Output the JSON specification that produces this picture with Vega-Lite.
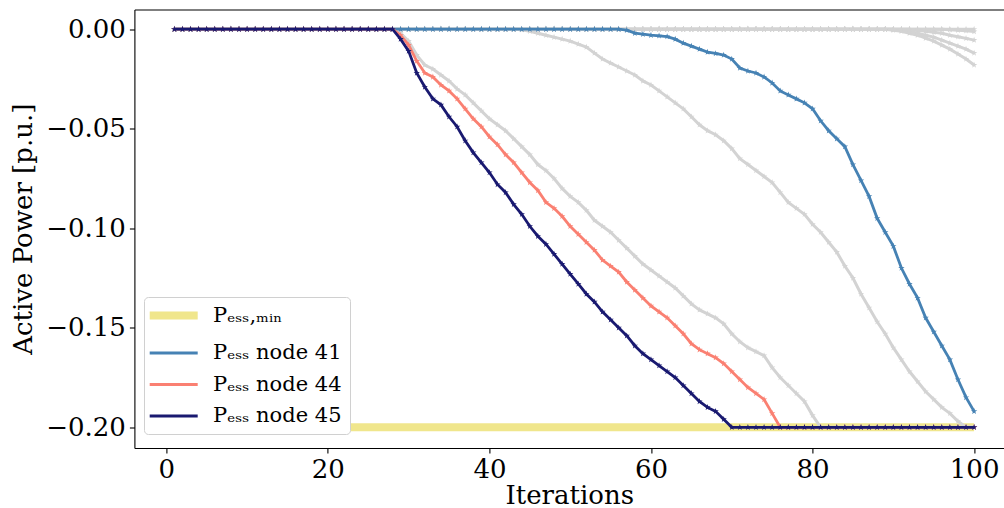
{
"$schema": "https://vega.github.io/schema/vega-lite/v6.json",
"width": 869.6, "height": 438.5,
"autosize": "none",
"padding": {"left": 134.4, "top": 9.5, "right": 0, "bottom": 60},
"background": "white",
"config": {
  "view": {"stroke": null},
  "font": "DejaVu Serif",
  "axis": {"domainColor": "#000", "domainWidth": 1.1, "tickColor": "#000", "tickWidth": 1.1, "tickSize": 5,
    "labelFont": "DejaVu Serif", "labelFontSize": 26, "labelColor": "#000",
    "titleFont": "DejaVu Serif", "titleFontSize": 26, "titleFontWeight": "normal", "titleColor": "#000", "grid": false}
},
"data": {"values": [
{"it":1,"pmin":-0.2,"n41":0,"n44":0,"n45":0,"gA":0,"gB":0,"g0":0,"g1":0,"g2":0,"g3":0,"g4":0},
{"it":2,"pmin":-0.2,"n41":0,"n44":0,"n45":0,"gA":0,"gB":0,"g0":0,"g1":0,"g2":0,"g3":0,"g4":0},
{"it":3,"pmin":-0.2,"n41":0,"n44":0,"n45":0,"gA":0,"gB":0,"g0":0,"g1":0,"g2":0,"g3":0,"g4":0},
{"it":4,"pmin":-0.2,"n41":0,"n44":0,"n45":0,"gA":0,"gB":0,"g0":0,"g1":0,"g2":0,"g3":0,"g4":0},
{"it":5,"pmin":-0.2,"n41":0,"n44":0,"n45":0,"gA":0,"gB":0,"g0":0,"g1":0,"g2":0,"g3":0,"g4":0},
{"it":6,"pmin":-0.2,"n41":0,"n44":0,"n45":0,"gA":0,"gB":0,"g0":0,"g1":0,"g2":0,"g3":0,"g4":0},
{"it":7,"pmin":-0.2,"n41":0,"n44":0,"n45":0,"gA":0,"gB":0,"g0":0,"g1":0,"g2":0,"g3":0,"g4":0},
{"it":8,"pmin":-0.2,"n41":0,"n44":0,"n45":0,"gA":0,"gB":0,"g0":0,"g1":0,"g2":0,"g3":0,"g4":0},
{"it":9,"pmin":-0.2,"n41":0,"n44":0,"n45":0,"gA":0,"gB":0,"g0":0,"g1":0,"g2":0,"g3":0,"g4":0},
{"it":10,"pmin":-0.2,"n41":0,"n44":0,"n45":0,"gA":0,"gB":0,"g0":0,"g1":0,"g2":0,"g3":0,"g4":0},
{"it":11,"pmin":-0.2,"n41":0,"n44":0,"n45":0,"gA":0,"gB":0,"g0":0,"g1":0,"g2":0,"g3":0,"g4":0},
{"it":12,"pmin":-0.2,"n41":0,"n44":0,"n45":0,"gA":0,"gB":0,"g0":0,"g1":0,"g2":0,"g3":0,"g4":0},
{"it":13,"pmin":-0.2,"n41":0,"n44":0,"n45":0,"gA":0,"gB":0,"g0":0,"g1":0,"g2":0,"g3":0,"g4":0},
{"it":14,"pmin":-0.2,"n41":0,"n44":0,"n45":0,"gA":0,"gB":0,"g0":0,"g1":0,"g2":0,"g3":0,"g4":0},
{"it":15,"pmin":-0.2,"n41":0,"n44":0,"n45":0,"gA":0,"gB":0,"g0":0,"g1":0,"g2":0,"g3":0,"g4":0},
{"it":16,"pmin":-0.2,"n41":0,"n44":0,"n45":0,"gA":0,"gB":0,"g0":0,"g1":0,"g2":0,"g3":0,"g4":0},
{"it":17,"pmin":-0.2,"n41":0,"n44":0,"n45":0,"gA":0,"gB":0,"g0":0,"g1":0,"g2":0,"g3":0,"g4":0},
{"it":18,"pmin":-0.2,"n41":0,"n44":0,"n45":0,"gA":0,"gB":0,"g0":0,"g1":0,"g2":0,"g3":0,"g4":0},
{"it":19,"pmin":-0.2,"n41":0,"n44":0,"n45":0,"gA":0,"gB":0,"g0":0,"g1":0,"g2":0,"g3":0,"g4":0},
{"it":20,"pmin":-0.2,"n41":0,"n44":0,"n45":0,"gA":0,"gB":0,"g0":0,"g1":0,"g2":0,"g3":0,"g4":0},
{"it":21,"pmin":-0.2,"n41":0,"n44":0,"n45":0,"gA":0,"gB":0,"g0":0,"g1":0,"g2":0,"g3":0,"g4":0},
{"it":22,"pmin":-0.2,"n41":0,"n44":0,"n45":0,"gA":0,"gB":0,"g0":0,"g1":0,"g2":0,"g3":0,"g4":0},
{"it":23,"pmin":-0.2,"n41":0,"n44":0,"n45":0,"gA":0,"gB":0,"g0":0,"g1":0,"g2":0,"g3":0,"g4":0},
{"it":24,"pmin":-0.2,"n41":0,"n44":0,"n45":0,"gA":0,"gB":0,"g0":0,"g1":0,"g2":0,"g3":0,"g4":0},
{"it":25,"pmin":-0.2,"n41":0,"n44":0,"n45":0,"gA":0,"gB":0,"g0":0,"g1":0,"g2":0,"g3":0,"g4":0},
{"it":26,"pmin":-0.2,"n41":0,"n44":0,"n45":0,"gA":0,"gB":0,"g0":0,"g1":0,"g2":0,"g3":0,"g4":0},
{"it":27,"pmin":-0.2,"n41":0,"n44":0,"n45":0,"gA":0,"gB":0,"g0":0,"g1":0,"g2":0,"g3":0,"g4":0},
{"it":28,"pmin":-0.2,"n41":0,"n44":0,"n45":0,"gA":0,"gB":0,"g0":0,"g1":0,"g2":0,"g3":0,"g4":0},
{"it":29,"pmin":-0.2,"n41":0,"n44":-0.003,"n45":-0.005,"gA":-0.002,"gB":0,"g0":0,"g1":0,"g2":0,"g3":0,"g4":0},
{"it":30,"pmin":-0.2,"n41":0,"n44":-0.008,"n45":-0.011,"gA":-0.006,"gB":0,"g0":0,"g1":0,"g2":0,"g3":0,"g4":0},
{"it":31,"pmin":-0.2,"n41":0,"n44":-0.016,"n45":-0.022,"gA":-0.013,"gB":0,"g0":0,"g1":0,"g2":0,"g3":0,"g4":0},
{"it":32,"pmin":-0.2,"n41":0,"n44":-0.022,"n45":-0.029,"gA":-0.018,"gB":0,"g0":0,"g1":0,"g2":0,"g3":0,"g4":0},
{"it":33,"pmin":-0.2,"n41":0,"n44":-0.024,"n45":-0.035,"gA":-0.020,"gB":0,"g0":0,"g1":0,"g2":0,"g3":0,"g4":0},
{"it":34,"pmin":-0.2,"n41":0,"n44":-0.028,"n45":-0.038,"gA":-0.023,"gB":0,"g0":0,"g1":0,"g2":0,"g3":0,"g4":0},
{"it":35,"pmin":-0.2,"n41":0,"n44":-0.031,"n45":-0.044,"gA":-0.026,"gB":0,"g0":0,"g1":0,"g2":0,"g3":0,"g4":0},
{"it":36,"pmin":-0.2,"n41":0,"n44":-0.035,"n45":-0.049,"gA":-0.030,"gB":0,"g0":0,"g1":0,"g2":0,"g3":0,"g4":0},
{"it":37,"pmin":-0.2,"n41":0,"n44":-0.040,"n45":-0.056,"gA":-0.033,"gB":0,"g0":0,"g1":0,"g2":0,"g3":0,"g4":0},
{"it":38,"pmin":-0.2,"n41":0,"n44":-0.045,"n45":-0.062,"gA":-0.037,"gB":0,"g0":0,"g1":0,"g2":0,"g3":0,"g4":0},
{"it":39,"pmin":-0.2,"n41":0,"n44":-0.049,"n45":-0.067,"gA":-0.041,"gB":0,"g0":0,"g1":0,"g2":0,"g3":0,"g4":0},
{"it":40,"pmin":-0.2,"n41":0,"n44":-0.054,"n45":-0.072,"gA":-0.045,"gB":0,"g0":0,"g1":0,"g2":0,"g3":0,"g4":0},
{"it":41,"pmin":-0.2,"n41":0,"n44":-0.058,"n45":-0.078,"gA":-0.048,"gB":0,"g0":0,"g1":0,"g2":0,"g3":0,"g4":0},
{"it":42,"pmin":-0.2,"n41":0,"n44":-0.063,"n45":-0.082,"gA":-0.051,"gB":0,"g0":0,"g1":0,"g2":0,"g3":0,"g4":0},
{"it":43,"pmin":-0.2,"n41":0,"n44":-0.067,"n45":-0.088,"gA":-0.055,"gB":0,"g0":0,"g1":0,"g2":0,"g3":0,"g4":0},
{"it":44,"pmin":-0.2,"n41":0,"n44":-0.072,"n45":-0.093,"gA":-0.059,"gB":-0.0003,"g0":0,"g1":0,"g2":0,"g3":0,"g4":0},
{"it":45,"pmin":-0.2,"n41":0,"n44":-0.077,"n45":-0.099,"gA":-0.063,"gB":-0.001,"g0":0,"g1":0,"g2":0,"g3":0,"g4":0},
{"it":46,"pmin":-0.2,"n41":0,"n44":-0.081,"n45":-0.104,"gA":-0.068,"gB":-0.002,"g0":0,"g1":0,"g2":0,"g3":0,"g4":0},
{"it":47,"pmin":-0.2,"n41":0,"n44":-0.087,"n45":-0.108,"gA":-0.071,"gB":-0.003,"g0":0,"g1":0,"g2":0,"g3":0,"g4":0},
{"it":48,"pmin":-0.2,"n41":0,"n44":-0.090,"n45":-0.113,"gA":-0.075,"gB":-0.004,"g0":0,"g1":0,"g2":0,"g3":0,"g4":0},
{"it":49,"pmin":-0.2,"n41":0,"n44":-0.094,"n45":-0.118,"gA":-0.080,"gB":-0.005,"g0":0,"g1":0,"g2":0,"g3":0,"g4":0},
{"it":50,"pmin":-0.2,"n41":0,"n44":-0.099,"n45":-0.123,"gA":-0.084,"gB":-0.006,"g0":0,"g1":0,"g2":0,"g3":0,"g4":0},
{"it":51,"pmin":-0.2,"n41":0,"n44":-0.103,"n45":-0.128,"gA":-0.087,"gB":-0.0075,"g0":0,"g1":0,"g2":0,"g3":0,"g4":0},
{"it":52,"pmin":-0.2,"n41":0,"n44":-0.107,"n45":-0.133,"gA":-0.091,"gB":-0.009,"g0":0,"g1":0,"g2":0,"g3":0,"g4":0},
{"it":53,"pmin":-0.2,"n41":0,"n44":-0.111,"n45":-0.137,"gA":-0.096,"gB":-0.012,"g0":0,"g1":0,"g2":0,"g3":0,"g4":0},
{"it":54,"pmin":-0.2,"n41":0,"n44":-0.116,"n45":-0.142,"gA":-0.099,"gB":-0.015,"g0":0,"g1":0,"g2":0,"g3":0,"g4":0},
{"it":55,"pmin":-0.2,"n41":0,"n44":-0.119,"n45":-0.146,"gA":-0.102,"gB":-0.017,"g0":0,"g1":0,"g2":0,"g3":0,"g4":0},
{"it":56,"pmin":-0.2,"n41":0,"n44":-0.122,"n45":-0.150,"gA":-0.106,"gB":-0.019,"g0":0,"g1":0,"g2":0,"g3":0,"g4":0},
{"it":57,"pmin":-0.2,"n41":-0.0005,"n44":-0.127,"n45":-0.154,"gA":-0.110,"gB":-0.021,"g0":0,"g1":0,"g2":0,"g3":0,"g4":0},
{"it":58,"pmin":-0.2,"n41":-0.002,"n44":-0.131,"n45":-0.159,"gA":-0.114,"gB":-0.023,"g0":0,"g1":0,"g2":0,"g3":0,"g4":0},
{"it":59,"pmin":-0.2,"n41":-0.0025,"n44":-0.135,"n45":-0.163,"gA":-0.118,"gB":-0.026,"g0":0,"g1":0,"g2":0,"g3":0,"g4":0},
{"it":60,"pmin":-0.2,"n41":-0.003,"n44":-0.139,"n45":-0.166,"gA":-0.121,"gB":-0.028,"g0":0,"g1":0,"g2":0,"g3":0,"g4":0},
{"it":61,"pmin":-0.2,"n41":-0.0033,"n44":-0.142,"n45":-0.169,"gA":-0.124,"gB":-0.031,"g0":0,"g1":0,"g2":0,"g3":0,"g4":0},
{"it":62,"pmin":-0.2,"n41":-0.0037,"n44":-0.145,"n45":-0.172,"gA":-0.127,"gB":-0.034,"g0":0,"g1":0,"g2":0,"g3":0,"g4":0},
{"it":63,"pmin":-0.2,"n41":-0.005,"n44":-0.149,"n45":-0.175,"gA":-0.130,"gB":-0.037,"g0":0,"g1":0,"g2":0,"g3":0,"g4":0},
{"it":64,"pmin":-0.2,"n41":-0.007,"n44":-0.153,"n45":-0.179,"gA":-0.134,"gB":-0.040,"g0":0,"g1":0,"g2":0,"g3":0,"g4":0},
{"it":65,"pmin":-0.2,"n41":-0.0085,"n44":-0.158,"n45":-0.183,"gA":-0.138,"gB":-0.044,"g0":0,"g1":0,"g2":0,"g3":0,"g4":0},
{"it":66,"pmin":-0.2,"n41":-0.010,"n44":-0.161,"n45":-0.187,"gA":-0.141,"gB":-0.048,"g0":0,"g1":0,"g2":0,"g3":0,"g4":0},
{"it":67,"pmin":-0.2,"n41":-0.0115,"n44":-0.163,"n45":-0.190,"gA":-0.143,"gB":-0.051,"g0":0,"g1":0,"g2":0,"g3":0,"g4":0},
{"it":68,"pmin":-0.2,"n41":-0.0122,"n44":-0.165,"n45":-0.192,"gA":-0.145,"gB":-0.053,"g0":0,"g1":0,"g2":0,"g3":0,"g4":0},
{"it":69,"pmin":-0.2,"n41":-0.013,"n44":-0.168,"n45":-0.196,"gA":-0.148,"gB":-0.056,"g0":0,"g1":0,"g2":0,"g3":0,"g4":0},
{"it":70,"pmin":-0.2,"n41":-0.015,"n44":-0.172,"n45":-0.2,"gA":-0.153,"gB":-0.060,"g0":0,"g1":0,"g2":0,"g3":0,"g4":0},
{"it":71,"pmin":-0.2,"n41":-0.0195,"n44":-0.176,"n45":-0.2,"gA":-0.157,"gB":-0.065,"g0":0,"g1":0,"g2":0,"g3":0,"g4":0},
{"it":72,"pmin":-0.2,"n41":-0.021,"n44":-0.180,"n45":-0.2,"gA":-0.160,"gB":-0.068,"g0":0,"g1":0,"g2":0,"g3":0,"g4":0},
{"it":73,"pmin":-0.2,"n41":-0.022,"n44":-0.183,"n45":-0.2,"gA":-0.162,"gB":-0.071,"g0":0,"g1":0,"g2":0,"g3":0,"g4":0},
{"it":74,"pmin":-0.2,"n41":-0.024,"n44":-0.186,"n45":-0.2,"gA":-0.164,"gB":-0.074,"g0":0,"g1":0,"g2":0,"g3":0,"g4":0},
{"it":75,"pmin":-0.2,"n41":-0.027,"n44":-0.193,"n45":-0.2,"gA":-0.170,"gB":-0.077,"g0":0,"g1":0,"g2":0,"g3":0,"g4":0},
{"it":76,"pmin":-0.2,"n41":-0.031,"n44":-0.2,"n45":-0.2,"gA":-0.175,"gB":-0.082,"g0":0,"g1":0,"g2":0,"g3":0,"g4":0},
{"it":77,"pmin":-0.2,"n41":-0.033,"n44":-0.2,"n45":-0.2,"gA":-0.179,"gB":-0.087,"g0":0,"g1":0,"g2":0,"g3":0,"g4":0},
{"it":78,"pmin":-0.2,"n41":-0.035,"n44":-0.2,"n45":-0.2,"gA":-0.183,"gB":-0.090,"g0":0,"g1":0,"g2":0,"g3":0,"g4":0},
{"it":79,"pmin":-0.2,"n41":-0.037,"n44":-0.2,"n45":-0.2,"gA":-0.187,"gB":-0.093,"g0":0,"g1":0,"g2":0,"g3":0,"g4":0},
{"it":80,"pmin":-0.2,"n41":-0.040,"n44":-0.2,"n45":-0.2,"gA":-0.194,"gB":-0.098,"g0":0,"g1":0,"g2":0,"g3":0,"g4":0},
{"it":81,"pmin":-0.2,"n41":-0.046,"n44":-0.2,"n45":-0.2,"gA":-0.2,"gB":-0.102,"g0":0,"g1":0,"g2":0,"g3":0,"g4":0},
{"it":82,"pmin":-0.2,"n41":-0.051,"n44":-0.2,"n45":-0.2,"gA":-0.2,"gB":-0.107,"g0":0,"g1":0,"g2":0,"g3":0,"g4":0},
{"it":83,"pmin":-0.2,"n41":-0.055,"n44":-0.2,"n45":-0.2,"gA":-0.2,"gB":-0.112,"g0":0,"g1":0,"g2":0,"g3":0,"g4":0},
{"it":84,"pmin":-0.2,"n41":-0.059,"n44":-0.2,"n45":-0.2,"gA":-0.2,"gB":-0.119,"g0":0,"g1":0,"g2":0,"g3":0,"g4":0},
{"it":85,"pmin":-0.2,"n41":-0.068,"n44":-0.2,"n45":-0.2,"gA":-0.2,"gB":-0.125,"g0":0,"g1":0,"g2":0,"g3":0,"g4":0},
{"it":86,"pmin":-0.2,"n41":-0.076,"n44":-0.2,"n45":-0.2,"gA":-0.2,"gB":-0.133,"g0":0,"g1":0,"g2":0,"g3":0,"g4":0},
{"it":87,"pmin":-0.2,"n41":-0.084,"n44":-0.2,"n45":-0.2,"gA":-0.2,"gB":-0.140,"g0":0,"g1":0,"g2":0,"g3":0,"g4":0},
{"it":88,"pmin":-0.2,"n41":-0.095,"n44":-0.2,"n45":-0.2,"gA":-0.2,"gB":-0.147,"g0":0,"g1":0,"g2":0,"g3":0,"g4":0},
{"it":89,"pmin":-0.2,"n41":-0.102,"n44":-0.2,"n45":-0.2,"gA":-0.2,"gB":-0.153,"g0":0,"g1":0,"g2":0,"g3":0,"g4":0},
{"it":90,"pmin":-0.2,"n41":-0.109,"n44":-0.2,"n45":-0.2,"gA":-0.2,"gB":-0.160,"g0":0,"g1":0,"g2":0,"g3":0,"g4":-0.0005},
{"it":91,"pmin":-0.2,"n41":-0.120,"n44":-0.2,"n45":-0.2,"gA":-0.2,"gB":-0.166,"g0":0,"g1":0,"g2":0,"g3":-0.0005,"g4":-0.001},
{"it":92,"pmin":-0.2,"n41":-0.128,"n44":-0.2,"n45":-0.2,"gA":-0.2,"gB":-0.172,"g0":0,"g1":0,"g2":0,"g3":-0.001,"g4":-0.002},
{"it":93,"pmin":-0.2,"n41":-0.135,"n44":-0.2,"n45":-0.2,"gA":-0.2,"gB":-0.177,"g0":0,"g1":0,"g2":-0.0005,"g3":-0.002,"g4":-0.003},
{"it":94,"pmin":-0.2,"n41":-0.145,"n44":-0.2,"n45":-0.2,"gA":-0.2,"gB":-0.182,"g0":0,"g1":0,"g2":-0.001,"g3":-0.003,"g4":-0.0045},
{"it":95,"pmin":-0.2,"n41":-0.152,"n44":-0.2,"n45":-0.2,"gA":-0.2,"gB":-0.186,"g0":0,"g1":0,"g2":-0.0015,"g3":-0.004,"g4":-0.006},
{"it":96,"pmin":-0.2,"n41":-0.159,"n44":-0.2,"n45":-0.2,"gA":-0.2,"gB":-0.190,"g0":0,"g1":0,"g2":-0.002,"g3":-0.0055,"g4":-0.008},
{"it":97,"pmin":-0.2,"n41":-0.166,"n44":-0.2,"n45":-0.2,"gA":-0.2,"gB":-0.193,"g0":0,"g1":-0.0003,"g2":-0.003,"g3":-0.007,"g4":-0.010},
{"it":98,"pmin":-0.2,"n41":-0.176,"n44":-0.2,"n45":-0.2,"gA":-0.2,"gB":-0.197,"g0":0,"g1":-0.0005,"g2":-0.0038,"g3":-0.0085,"g4":-0.0125},
{"it":99,"pmin":-0.2,"n41":-0.185,"n44":-0.2,"n45":-0.2,"gA":-0.2,"gB":-0.2,"g0":0,"g1":-0.0008,"g2":-0.0046,"g3":-0.010,"g4":-0.015},
{"it":100,"pmin":-0.2,"n41":-0.192,"n44":-0.2,"n45":-0.2,"gA":-0.2,"gB":-0.2,"g0":0,"g1":-0.0012,"g2":-0.0055,"g3":-0.012,"g4":-0.018}
]},
"transform": [{"fold": ["pmin","gA","gB","g0","g1","g2","g3","g4","n41","n44","n45"], "as": ["series","value"]}],
"resolve": {"axis": {"x": "independent"}},
"layer": [
  {"transform": [{"filter": "datum.series === 'pmin'"}],
   "mark": {"type": "line", "strokeCap": "butt", "strokeWidth": 8},
   "encoding": {
     "x": {"field": "it", "type": "quantitative", "scale": {"domain": [-3.95, 103.7], "nice": false, "zero": false},
       "axis": {"orient": "top", "labels": false, "ticks": false, "title": null}},
     "y": {"field": "value", "type": "quantitative", "scale": {"domain": [-0.2104, 0.0099], "nice": false, "zero": false},
       "axis": {"values": [-0.2,-0.15,-0.1,-0.05,0], "format": ".2f", "title": "Active Power [p.u.]", "labelPadding": 4, "titlePadding": 9}},
     "color": {"field": "series", "type": "nominal",
       "scale": {"domain": ["pmin","n41","n44","n45"], "range": ["#f0e68c","#4682b4","#fa8072","#191970"]},
       "legend": {"orient": "none", "legendX": 9.6, "legendY": 287.5, "title": null, "symbolType": "M-1.6,0L4.4,0", "symbolSize": 256,
         "symbolStrokeWidth": 2.8,
         "labelFont": "DejaVu Serif", "labelFontSize": 21, "labelColor": "#000", "fillColor": "#ffffff", "strokeColor": "#d0d0d0",
         "cornerRadius": 4, "padding": 8, "rowPadding": 9.5, "labelOffset": 40,
         "labelExpr": "datum.value === 'pmin' ? 'Pₑₛₛ,ₘᵢₙ' : 'Pₑₛₛ node ' + slice(datum.value, 1)",
         "encode": {"symbols": {"update": {"strokeWidth": {"signal": "datum.value === 'pmin' ? 8 : 2.8"}}}}}}
   }},
  {"encoding": {
     "x": {"field": "it", "type": "quantitative",
       "axis": {"orient": "bottom", "values": [0,20,40,60,80,100], "title": "Iterations", "labelPadding": 3, "titlePadding": 0, "labelFlush": false}},
     "y": {"field": "value", "type": "quantitative"}
   },
   "layer": [
    {"transform": [{"filter": "indexof(['gA','gB','g0','g1','g2','g3','g4'], datum.series) >= 0"}],
     "mark": {"type": "line", "color": "#d3d3d3", "strokeWidth": 3,
       "point": {"filled": true, "color": "#d3d3d3", "size": 45, "shape": "M0,-1L0.2245,-0.309L0.9511,-0.309L0.3633,0.118L0.5878,0.809L0,0.382L-0.5878,0.809L-0.3633,0.118L-0.9511,-0.309L-0.2245,-0.309Z"}},
     "encoding": {"detail": {"field": "series", "type": "nominal"}}},
    {"transform": [{"filter": "datum.series === 'n41'"}],
     "mark": {"type": "line", "strokeWidth": 2.8,
       "point": {"filled": true, "size": 45, "shape": "M0,-1L0.2245,-0.309L0.9511,-0.309L0.3633,0.118L0.5878,0.809L0,0.382L-0.5878,0.809L-0.3633,0.118L-0.9511,-0.309L-0.2245,-0.309Z"}},
     "encoding": {"color": {"field": "series", "type": "nominal"}}},
    {"transform": [{"filter": "datum.series === 'n44'"}],
     "mark": {"type": "line", "strokeWidth": 2.8,
       "point": {"filled": true, "size": 45, "shape": "M0,-1L0.2245,-0.309L0.9511,-0.309L0.3633,0.118L0.5878,0.809L0,0.382L-0.5878,0.809L-0.3633,0.118L-0.9511,-0.309L-0.2245,-0.309Z"}},
     "encoding": {"color": {"field": "series", "type": "nominal"}}},
    {"transform": [{"filter": "datum.series === 'n45'"}],
     "mark": {"type": "line", "strokeWidth": 2.8,
       "point": {"filled": true, "size": 45, "shape": "M0,-1L0.2245,-0.309L0.9511,-0.309L0.3633,0.118L0.5878,0.809L0,0.382L-0.5878,0.809L-0.3633,0.118L-0.9511,-0.309L-0.2245,-0.309Z"}},
     "encoding": {"color": {"field": "series", "type": "nominal"}}}
   ]}
]
}
